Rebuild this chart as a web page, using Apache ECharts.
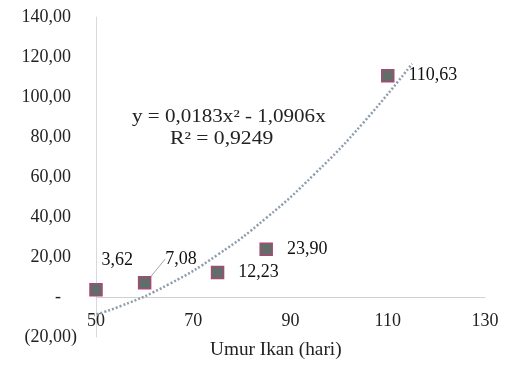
<!DOCTYPE html>
<html>
<head>
<meta charset="utf-8">
<script src="https://cdn.jsdelivr.net/npm/echarts@6/dist/echarts.min.js"></script>
<style>
  html, body { margin: 0; padding: 0; background: #fff; }
  #chart { width: 505px; height: 365px; }
</style>
</head>
<body>
<div id="chart"></div>
<script>
// umur ikan (hari) vs nilai
var umur = [50, 60, 75, 85, 110];
var nilai = [3.62, 7.08, 12.23, 23.90, 110.63];

// trendline polinomial
var trendX = [47, 55, 65, 75, 85, 95, 105, 115];
var trendY = [-10.8, -4.6, 6.4, 21.1, 39.5, 61.6, 87.2, 116.6];

var persamaan = 'y = 0,0183x² - 1,0906x';
var rKuadrat = 'R² = 0,9249';
var judulX = 'Umur Ikan (hari)';

var FONT = '"Liberation Serif", "Times New Roman", serif';
var FS = 18;

function fmt(v) {
    return v.toFixed(2).replace('.', ',');
}

// posisi label khusus untuk dua titik pertama
var labelPos = {
    0: [28, -23],
    1: [43, -17]
};

var chart = echarts.init(document.getElementById('chart'));

chart.setOption({
    animation: false,
    grid: {
        left: 96,
        right: 20,
        top: 17,
        bottom: 28,
        outerBoundsMode: 'none'
    },
    xAxis: {
        type: 'value',
        min: 50,
        max: 130,
        interval: 20,
        offset: -40, // sumbu x memotong di y = 0
        splitLine: { show: false },
        axisTick: { show: false },
        axisLine: {
            onZero: false,
            lineStyle: { color: '#d0d0d0', width: 1 }
        },
        axisLabel: {
            margin: 15,
            color: '#222',
            fontFamily: FONT,
            fontSize: FS
        }
    },
    yAxis: {
        type: 'value',
        min: -20,
        max: 140,
        interval: 20,
        splitLine: { show: false },
        axisTick: { show: false },
        axisLine: {
            show: true,
            lineStyle: { color: '#d9d9d9', width: 1 }
        },
        axisLabel: {
            margin: 19,
            color: '#222',
            fontFamily: FONT,
            fontSize: FS,
            formatter: function (v) {
                if (v === 0) return '{z|-}';
                if (v < 0) return '(' + fmt(-v) + ')';
                return '{p|' + fmt(v) + '}';
            },
            rich: {
                p: { padding: [0, 6, 0, 0], fontFamily: FONT, fontSize: FS, color: '#222' },
                z: { padding: [0, 16, 0, 0], fontFamily: FONT, fontSize: FS, color: '#222' }
            }
        }
    },
    graphic: [
        {
            type: 'text',
            left: 210,
            top: 341,
            scaleX: 1.07,
            style: { text: judulX, font: FS + 'px ' + FONT, fill: '#222' }
        },
        {
            type: 'text',
            left: 132,
            top: 108,
            scaleX: 1.17,
            style: { text: persamaan, font: FS + 'px ' + FONT, fill: '#222' }
        },
        {
            type: 'text',
            left: 170,
            top: 130,
            scaleX: 1.2,
            style: { text: rKuadrat, font: FS + 'px ' + FONT, fill: '#222' }
        }
    ],
    series: [
        {
            type: 'line',
            data: trendX.map(function (x, i) { return [x, trendY[i]]; }),
            smooth: true,
            showSymbol: false,
            clip: false,
            silent: true,
            lineStyle: {
                color: '#8f9cab',
                width: 2.5,
                type: [2, 2]
            },
            z: 1
        },
        {
            type: 'scatter',
            symbol: 'rect',
            symbolSize: 12,
            itemStyle: {
                color: '#626c69',
                borderColor: '#a54a78',
                borderWidth: 1.5,
                opacity: 1
            },
            label: {
                show: true,
                position: 'right',
                distance: 14,
                color: '#111',
                fontFamily: FONT,
                fontSize: FS,
                formatter: function (p) { return fmt(p.value[1]); }
            },
            data: umur.map(function (x, i) {
                var item = { value: [x, nilai[i]] };
                if (labelPos[i]) {
                    item.label = {
                        position: labelPos[i],
                        align: 'center',
                        verticalAlign: 'middle'
                    };
                    if (i === 1) {
                        item.labelLine = {
                            show: true,
                            lineStyle: { color: '#a6a6a6', width: 1 }
                        };
                    }
                }
                return item;
            }),
            z: 3
        }
    ]
});
</script>
</body>
</html>
